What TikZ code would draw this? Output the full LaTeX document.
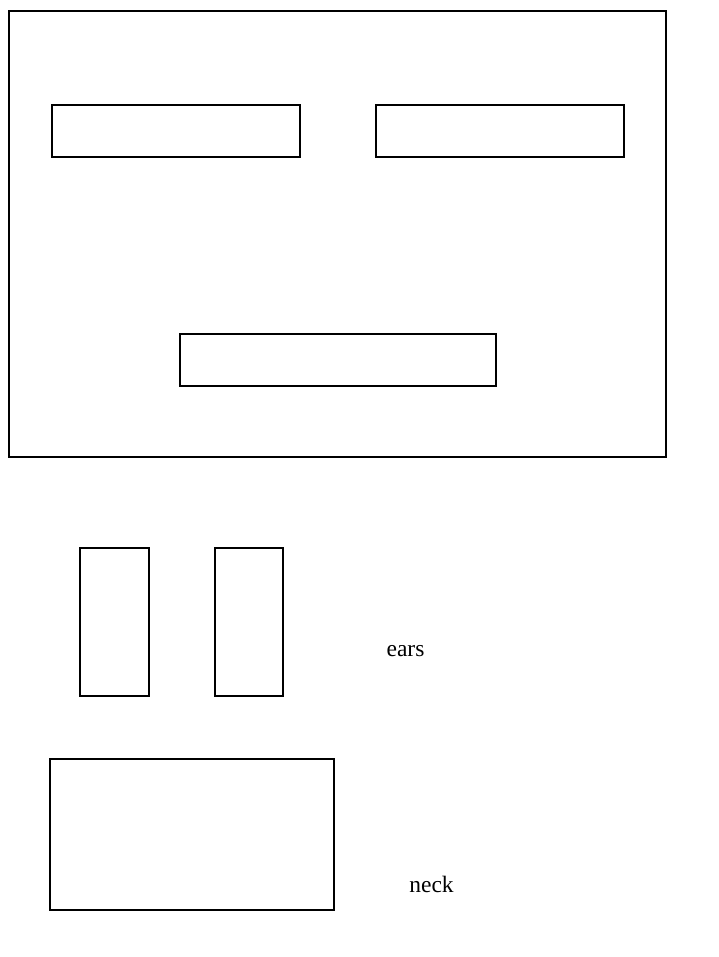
\documentclass[tikz,border=0pt]{standalone}
\usepackage{fontspec}
\setmainfont{Liberation Serif}
\begin{document}
\begin{tikzpicture}[x=1pt,y=-1pt,
  box/.style={draw=black,line width=1.5pt},
  lbl/.style={font=\fontsize{23.5}{28}\selectfont,inner sep=0pt,anchor=base}]
\useasboundingbox (0,0) rectangle (718,957);
\draw[box] (9,11) rectangle (666,457);
\draw[box] (52,105) rectangle (300,157);
\draw[box] (376,105) rectangle (624,157);
\draw[box] (180,334) rectangle (496,386);
\draw[box] (80,548) rectangle (149,696);
\draw[box] (215,548) rectangle (283,696);
\draw[box] (50,759) rectangle (334,910);
\node[lbl] (ears) at (405.5,656) {ears};
\node[lbl] (neck) at (431.5,892) {neck};
\end{tikzpicture}
\end{document}
